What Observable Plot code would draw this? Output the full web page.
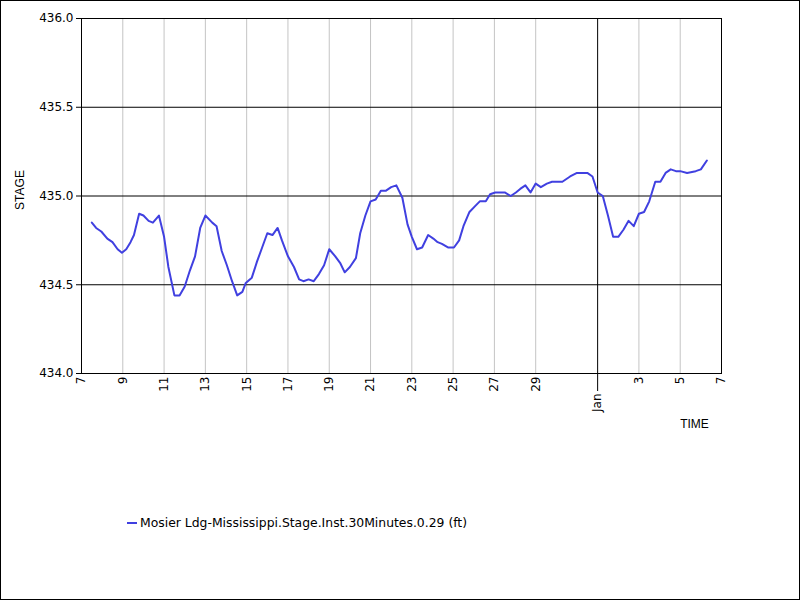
<!DOCTYPE html>
<html>
<head>
<meta charset="utf-8">
<script src="https://cdn.jsdelivr.net/npm/d3@7"></script>
<script src="https://cdn.jsdelivr.net/npm/@observablehq/plot@0.6"></script>
<style>
  html, body { margin: 0; padding: 0; background: #fff; }
  #wrap { position: relative; width: 800px; height: 600px; overflow: hidden; }
  #border { position: absolute; left: 0; top: 0; width: 800px; height: 600px; box-sizing: border-box; border: 1px solid #000; pointer-events: none; }
  #legend { position: absolute; left: 127px; top: 515px; font-family: "DejaVu Sans", Verdana, sans-serif; font-size: 12.4px; color: #000; display: flex; align-items: center; white-space: nowrap; }
  #legend .sw { display: inline-block; width: 10px; height: 2px; background: #4040e0; margin-right: 3px; }
</style>
</head>
<body>
<div id="wrap">
  <div id="chart"></div>
  <div id="legend"><span class="sw"></span><span id="legendText"></span></div>
  <div id="border"></div>
</div>
<script>
// ---- data ----
const seriesName = "Mosier Ldg-Mississippi.Stage.Inst.30Minutes.0.29 (ft)";
const times = [
  "2023-12-07T12:00Z","2023-12-07T17:00Z","2023-12-07T23:00Z","2023-12-08T06:00Z","2023-12-08T12:00Z",
  "2023-12-08T18:00Z","2023-12-08T23:00Z","2023-12-09T04:00Z","2023-12-09T09:00Z","2023-12-09T13:00Z",
  "2023-12-09T19:00Z","2023-12-10T00:00Z","2023-12-10T06:00Z","2023-12-10T11:00Z","2023-12-10T18:00Z",
  "2023-12-11T00:00Z","2023-12-11T05:00Z","2023-12-11T12:00Z","2023-12-11T18:00Z","2023-12-12T00:00Z",
  "2023-12-12T06:00Z","2023-12-12T12:00Z","2023-12-12T18:00Z","2023-12-13T00:00Z","2023-12-13T08:00Z",
  "2023-12-13T13:00Z","2023-12-13T19:00Z","2023-12-14T01:00Z","2023-12-14T07:00Z","2023-12-14T13:00Z",
  "2023-12-14T19:00Z","2023-12-14T23:00Z","2023-12-15T06:00Z","2023-12-15T12:00Z","2023-12-15T18:00Z",
  "2023-12-16T00:00Z","2023-12-16T06:00Z","2023-12-16T12:00Z","2023-12-16T17:00Z","2023-12-17T00:00Z",
  "2023-12-17T07:00Z","2023-12-17T13:00Z","2023-12-17T18:00Z","2023-12-18T00:00Z","2023-12-18T06:00Z",
  "2023-12-18T12:00Z","2023-12-18T18:00Z","2023-12-19T00:00Z","2023-12-19T07:00Z","2023-12-19T13:00Z",
  "2023-12-19T18:00Z","2023-12-20T00:00Z","2023-12-20T07:00Z","2023-12-20T12:00Z","2023-12-20T18:00Z",
  "2023-12-21T00:00Z","2023-12-21T06:00Z","2023-12-21T12:00Z","2023-12-21T18:00Z","2023-12-22T00:00Z",
  "2023-12-22T06:00Z","2023-12-22T13:00Z","2023-12-22T19:00Z","2023-12-23T00:00Z","2023-12-23T06:00Z",
  "2023-12-23T12:00Z","2023-12-23T19:00Z","2023-12-24T01:00Z","2023-12-24T06:00Z","2023-12-24T11:00Z",
  "2023-12-24T18:00Z","2023-12-25T01:00Z","2023-12-25T07:00Z","2023-12-25T12:00Z","2023-12-25T19:00Z",
  "2023-12-26T01:00Z","2023-12-26T07:00Z","2023-12-26T14:00Z","2023-12-26T19:00Z","2023-12-27T01:00Z",
  "2023-12-27T12:00Z","2023-12-27T19:00Z","2023-12-28T01:00Z","2023-12-28T06:00Z","2023-12-28T12:00Z",
  "2023-12-28T18:00Z","2023-12-29T00:00Z","2023-12-29T06:00Z","2023-12-29T13:00Z","2023-12-29T19:00Z",
  "2023-12-30T07:00Z","2023-12-30T16:00Z","2023-12-31T00:00Z","2023-12-31T12:00Z","2023-12-31T18:00Z",
  "2024-01-01T00:00Z","2024-01-01T06:00Z","2024-01-01T12:00Z","2024-01-01T18:00Z","2024-01-02T00:00Z",
  "2024-01-02T06:00Z","2024-01-02T12:00Z","2024-01-02T18:00Z","2024-01-03T00:00Z","2024-01-03T06:00Z",
  "2024-01-03T12:00Z","2024-01-03T19:00Z","2024-01-04T01:00Z","2024-01-04T07:00Z","2024-01-04T13:00Z",
  "2024-01-04T19:00Z","2024-01-05T00:00Z","2024-01-05T08:00Z","2024-01-05T18:00Z","2024-01-06T00:00Z",
  "2024-01-06T07:00Z"
];
const stage = [
  434.85,434.82,434.80,434.76,434.74, 434.70,434.68,434.70,434.74,434.78,
  434.90,434.89,434.86,434.85,434.89, 434.77,434.60,434.44,434.44,434.49,
  434.58,434.66,434.82,434.89,434.85, 434.83,434.69,434.61,434.52,434.44,
  434.46,434.51,434.54,434.63,434.71, 434.79,434.78,434.82,434.75,434.66,
  434.60,434.53,434.52,434.53,434.52, 434.56,434.61,434.70,434.66,434.62,
  434.57,434.60,434.65,434.79,434.89, 434.97,434.98,435.03,435.03,435.05,
  435.06,434.99,434.84,434.77,434.70, 434.71,434.78,434.76,434.74,434.73,
  434.71,434.71,434.75,434.83,434.91, 434.94,434.97,434.97,435.01,435.02,
  435.02,435.00,435.02,435.04,435.06, 435.02,435.07,435.05,435.07,435.08,
  435.08,435.11,435.13,435.13,435.11, 435.02,435.00,434.89,434.77,434.77,
  434.81,434.86,434.83,434.90,434.91, 434.97,435.08,435.08,435.13,435.15,
  435.14,435.14,435.13,435.14,435.15, 435.20
];
const xTickDates = ["2023-12-07","2023-12-09","2023-12-11","2023-12-13","2023-12-15","2023-12-17",
  "2023-12-19","2023-12-21","2023-12-23","2023-12-25","2023-12-27","2023-12-29",
  "2024-01-03","2024-01-05","2024-01-07"];
const xTickLabels = ["7","9","11","13","15","17","19","21","23","25","27","29","3","5","7"];
const monthTickDate = "2024-01-01";
const monthTickLabel = "Jan";
const yTicks = [434.0, 434.5, 435.0, 435.5, 436.0];
const yGrid = [434.5, 435.0, 435.5];
const xDomain = ["2023-12-07", "2024-01-07"];
const yDomain = [434, 436];

// ---- build ----
const parse = s => new Date(s.length === 10 ? s + "T00:00Z" : s);
const data = times.map((t, i) => ({t: parse(t), v: stage[i]}));
const xTicks = xTickDates.map((d, i) => ({d: parse(d), label: xTickLabels[i]}));
const grayGrid = xTicks.filter(o => +o.d !== +parse(xDomain[0]) && +o.d !== +parse(xDomain[1])).map(o => o.d);
const monthTick = parse(monthTickDate);

const chart = Plot.plot({
  width: 800,
  height: 600,
  marginLeft: 81,
  marginRight: 79,
  marginTop: 18,
  marginBottom: 227,
  style: {fontFamily: "'DejaVu Sans', Verdana, sans-serif", fontSize: "12px", background: "white", color: "black"},
  x: {type: "utc", domain: xDomain.map(parse), axis: null},
  y: {domain: yDomain, axis: null},
  marks: [
    Plot.ruleX(grayGrid, {stroke: "#c4c4c4", strokeWidth: 1}),
    Plot.ruleY(yGrid, {stroke: "black", strokeWidth: 1}),
    Plot.ruleX([monthTick], {stroke: "black", strokeWidth: 1, insetBottom: -18}),
    Plot.frame({stroke: "black", strokeWidth: 1}),
    Plot.axisY({ticks: yTicks, tickSize: 5, tickPadding: 3, tickFormat: d => d.toFixed(1), fontSize: 12, label: null}),
    Plot.text(xTicks, {x: "d", text: "label", frameAnchor: "bottom", dy: 3, rotate: -90, textAnchor: "end", lineAnchor: "middle", fontSize: 12}),
    Plot.text([monthTickLabel], {x: [monthTick], text: d => d, frameAnchor: "bottom", dy: 20, rotate: -90, textAnchor: "end", lineAnchor: "middle", fontSize: 12}),
    Plot.line(data, {x: "t", y: "v", stroke: "#4040e0", strokeWidth: 2, strokeLinejoin: "round"}),
    Plot.text(["STAGE"], {frameAnchor: "left", dx: -61, dy: -6, rotate: -90, textAnchor: "middle", lineAnchor: "middle", fontFamily: "'Liberation Sans', Arial, sans-serif", fontSize: 12}),
    Plot.text(["TIME"], {frameAnchor: "bottom-right", dx: -27, dy: 51, textAnchor: "middle", lineAnchor: "middle", fontFamily: "'Liberation Sans', Arial, sans-serif", fontSize: 12})
  ]
});
document.getElementById("chart").appendChild(chart);
document.getElementById("legendText").textContent = seriesName;
</script>
</body>
</html>
